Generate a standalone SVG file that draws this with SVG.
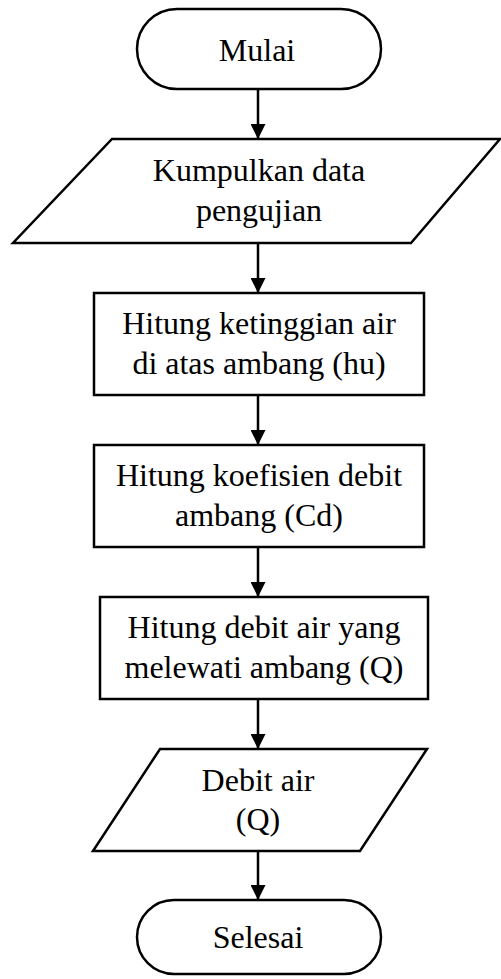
<svg xmlns="http://www.w3.org/2000/svg" width="501" height="979" viewBox="0 0 501 979">
<defs>
<style>
.shape{fill:#ffffff;stroke:#000000;stroke-width:2.5}
.txt{font-family:"Liberation Serif","Times New Roman",serif;font-size:32px;fill:#000000;text-anchor:middle}
.conn{stroke:#000000;stroke-width:2.5;fill:none}
</style>
<marker id="arr" viewBox="0 0 10 10" refX="10" refY="5" markerWidth="6" markerHeight="6" markerUnits="strokeWidth" orient="auto">
<path d="M0,0 L10,5 L0,10 Z" fill="#000000"/>
</marker>
</defs>
<rect width="501" height="979" fill="#ffffff"/>
<g id="connectors">
<line class="conn" x1="258" y1="89" x2="258" y2="139" marker-end="url(#arr)"/>
<line class="conn" x1="258" y1="243" x2="258" y2="293" marker-end="url(#arr)"/>
<line class="conn" x1="258" y1="395" x2="258" y2="445" marker-end="url(#arr)"/>
<line class="conn" x1="258" y1="547" x2="258" y2="597" marker-end="url(#arr)"/>
<line class="conn" x1="258" y1="699" x2="258" y2="749" marker-end="url(#arr)"/>
<line class="conn" x1="258" y1="851" x2="258" y2="900" marker-end="url(#arr)"/>
</g>
<g id="mulai">
<rect class="shape" x="137" y="9" width="244" height="80" rx="40" ry="40"/>
<text class="txt" x="257" y="61">Mulai</text>
</g>
<g id="kumpulkan">
<polygon class="shape" points="112,139 500,139 411,243 13,243"/>
<text class="txt" x="259" y="181">Kumpulkan data</text>
<text class="txt" x="259" y="221">pengujian</text>
</g>
<g id="hitung-hu">
<rect class="shape" x="94" y="293" width="330" height="102"/>
<text class="txt" x="259" y="334">Hitung ketinggian air</text>
<text class="txt" x="259" y="374">di atas ambang (hu)</text>
</g>
<g id="hitung-cd">
<rect class="shape" x="94" y="445" width="330" height="102"/>
<text class="txt" x="259" y="486">Hitung koefisien debit</text>
<text class="txt" x="259" y="526">ambang (Cd)</text>
</g>
<g id="hitung-q">
<rect class="shape" x="100" y="597" width="328" height="102"/>
<text class="txt" x="264" y="638">Hitung debit air yang</text>
<text class="txt" x="264" y="678">melewati ambang (Q)</text>
</g>
<g id="debit">
<polygon class="shape" points="160,749 427,749 360,851 93,851"/>
<text class="txt" x="258" y="791">Debit air</text>
<text class="txt" x="258" y="830">(Q)</text>
</g>
<g id="selesai">
<rect class="shape" x="137" y="900" width="244" height="74" rx="37" ry="37"/>
<text class="txt" x="258" y="948">Selesai</text>
</g>
</svg>
